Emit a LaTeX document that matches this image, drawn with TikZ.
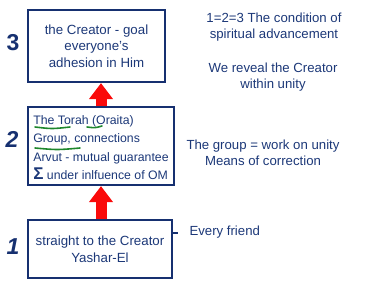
\documentclass[tikz,border=0pt]{standalone}
\usepackage{fontspec}
\setmainfont{Liberation Sans}
\usetikzlibrary{arrows.meta}
\definecolor{inkblue}{RGB}{28,56,120}
\definecolor{boxblue}{RGB}{22,48,112}
\definecolor{markred}{RGB}{250,10,10}
\definecolor{markgreen}{RGB}{30,135,45}
\begin{document}
\begin{tikzpicture}[x=1pt, y=-1pt, >=Stealth,
    stage/.style={draw=boxblue, line width=2.2pt, inner sep=0pt, text=inkblue,
      font=\fontsize{13.3}{16.5}\selectfont},
    level/.style={text=boxblue, font=\fontsize{23}{23}\selectfont\bfseries},
    note/.style={text=inkblue, align=center, font=\fontsize{13.2}{16.5}\selectfont},
    lift/.style={markred, line width=11pt, -{Triangle[width=23pt,length=16pt]}},
    underl/.style={markgreen, line width=1.6pt, line cap=round}]
  \useasboundingbox (0,0) rectangle (386,284);
  % the three stages
  \node[stage, align=center, minimum width=137pt, minimum height=72pt] (goal) at (96.5,46)
    {the Creator - goal\\everyone’s\\adhesion in Him};
  \node[stage, align=left, minimum width=146pt, minimum height=78pt,
    font=\fontsize{12.3}{18.5}\selectfont] (group) at (101,146)
    {\rule{0pt}{12pt}The Torah (Oraita)\\Group, connections\\Arvut - mutual guarantee\\
     {\fontsize{17}{17}\selectfont\bfseries Σ} under inlfuence of OM};
  \node[stage, align=center, minimum width=144pt, minimum height=58pt] (friend) at (100,249)
    {straight to the Creator\\Yashar-El};
  \node[level] (n3) at (13,43) {3};
  \node[level, font=\fontsize{23}{23}\selectfont\bfseries\itshape] (n2) at (12,139) {2};
  \node[level, font=\fontsize{23}{23}\selectfont\bfseries\itshape] (n1) at (13,247) {1};
  % arrows
  \draw[lift] (group.north) -- (goal.south -| group.north);
  \draw[lift] (friend.north -| group.south) -- (group.south);
  % underlines
  \draw[underl] (35,127) .. controls (52,129) .. (70,127);
  \draw[underl] (87,127) .. controls (95,128) .. (102,126);
  \draw[underl] (35,148) .. controls (57,150) .. (80,148);
  % notes on the right
  \node[note] (cond) at (274,27) {1=2=3 The condition of\\spiritual advancement};
  \node[note] (reveal) at (273,77) {We reveal the Creator\\within unity};
  \node[note] (means) at (263,153) {The group = work on unity\\Means of correction};
  \node[note, anchor=west] (every) at (186,232) {Every friend};
  \coordinate (tick) at (178,233);
  \draw[boxblue, line width=1.2pt] (friend.east |- tick) -- (tick);
\end{tikzpicture}
\end{document}
